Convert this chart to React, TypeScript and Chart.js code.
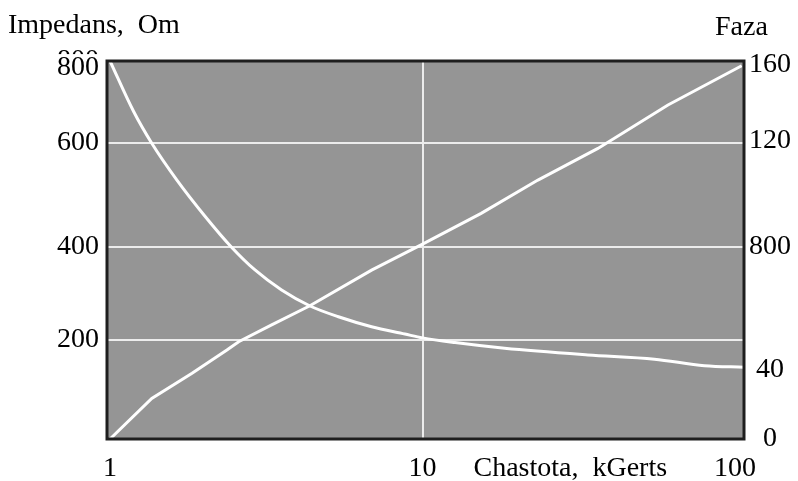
import React, { useEffect, useRef } from "react";
import { Chart, registerables } from "chart.js";

Chart.register(...registerables);

// Frequency (kGerts) and impedance (left scale units)
const impFreq = [1.0, 1.19, 1.36, 1.637, 2.016, 2.44, 2.91, 3.54, 4.365, 5.38, 6.87, 8.78, 10, 12.7, 18.3, 33.8, 55.2, 79.8, 106.8];
const impedance = [800, 693, 626, 548, 471, 407, 357.7, 315.3, 281.5, 258.8, 237.7, 222.2, 214, 204, 192, 178, 169, 155, 152];

// Frequency (kGerts) and phase (right scale units)
const phaseFreq = [1.0, 1.36, 1.83, 2.366, 2.58, 3.29, 4.36, 6.87, 10, 15.4, 23.4, 36.4, 61.0, 105.0];
const phase = [0, 17.2, 27.8, 37.7, 41.2, 48.3, 56.4, 71.5, 82.5, 95.5, 109.6, 123, 141.4, 158];

// Axis ticks (values on the scales, and the labels printed there)
const xTickValues = [1, 10, 29.7, 100];
const xTickLabels = ["1", "10", "Chastota,  kGerts", "100"];
const xGridValues = [10];

const leftTickValues = [800, 785, 626.5, 406.3, 209.5];
const leftTickLabels = ["800", "800", "600", "400", "200"];
const leftGridLabels = [false, false, true, true, true];

const rightTickValues = [158.3, 126.1, 81.3, 29.2, 0];
const rightTickLabels = ["160", "120", "800", "40", "0"];

const leftTitle = "Impedans,  Om";
const rightTitle = "Faza";

const FONT = "'Liberation Serif', 'Times New Roman', serif";

export default function App() {
  const ref = useRef<HTMLCanvasElement | null>(null);

  useEffect(() => {
    document.body.style.margin = "0";
    const canvas = ref.current;
    if (!canvas) return;

    const framePlugin = {
      id: "frame",
      beforeDraw(chart: any) {
        const { ctx, chartArea: a } = chart;
        ctx.save();
        ctx.fillStyle = "#959595";
        ctx.fillRect(a.left, a.top, a.right - a.left, a.bottom - a.top);
        ctx.restore();
      },
      afterDraw(chart: any) {
        const { ctx, chartArea: a } = chart;
        ctx.save();
        ctx.strokeStyle = "#1e1e1e";
        ctx.lineWidth = 3;
        ctx.strokeRect(a.left, a.top, a.right - a.left, a.bottom - a.top);
        ctx.fillStyle = "#000";
        ctx.font = `28px ${FONT}`;
        ctx.textBaseline = "alphabetic";
        ctx.textAlign = "left";
        ctx.fillText(leftTitle, 8, 33);
        ctx.fillText(rightTitle, a.right - 29, 35);
        ctx.restore();
      },
    };

    const chart = new Chart(canvas, {
      type: "line",
      data: {
        datasets: [
          {
            label: "Impedans",
            data: impFreq.map((f, i) => ({ x: f, y: impedance[i] })),
            borderColor: "#ffffff",
            borderWidth: 3,
            pointRadius: 0,
            cubicInterpolationMode: "monotone",
            yAxisID: "y",
          },
          {
            label: "Faza",
            data: phaseFreq.map((f, i) => ({ x: f, y: phase[i] })),
            borderColor: "#ffffff",
            borderWidth: 3,
            pointRadius: 0,
            tension: 0,
            yAxisID: "y1",
          },
        ],
      },
      plugins: [framePlugin],
      options: {
        animation: false,
        responsive: true,
        maintainAspectRatio: false,
        layout: { padding: { top: 61, left: 0, right: 0, bottom: 0 } },
        plugins: {
          legend: { display: false },
          tooltip: { enabled: false },
          title: { display: false },
        },
        scales: {
          x: {
            type: "logarithmic",
            min: 0.978,
            max: 106.8,
            afterBuildTicks: (s: any) => {
              s.ticks = xTickValues.map((v) => ({ value: v }));
            },
            afterFit: (s: any) => {
              s.height = 42;
            },
            border: { display: false },
            grid: {
              drawTicks: false,
              lineWidth: 2,
              color: (c: any) =>
                c.tick && xGridValues.includes(c.tick.value) ? "#ececec" : "rgba(0,0,0,0)",
            },
            ticks: {
              autoSkip: false,
              maxRotation: 0,
              minRotation: 0,
              padding: 16,
              color: "#000",
              font: { family: FONT, size: 28, lineHeight: 1 },
              callback: (_v: any, i: number) => xTickLabels[i],
            },
          },
          y: {
            type: "linear",
            position: "left",
            min: 0,
            max: 800,
            afterBuildTicks: (s: any) => {
              s.ticks = leftTickValues.map((v) => ({ value: v }));
            },
            afterFit: (s: any) => {
              s.width = 107;
            },
            border: { display: false },
            grid: {
              drawTicks: false,
              lineWidth: 2,
              color: (c: any) => (leftGridLabels[c.index] ? "#ececec" : "rgba(0,0,0,0)"),
            },
            ticks: {
              padding: 8,
              crossAlign: "near",
              color: "#000",
              showLabelBackdrop: true,
              backdropColor: "#ffffff",
              backdropPadding: 0,
              font: { family: FONT, size: 28, lineHeight: 1 },
              callback: (_v: any, i: number) => leftTickLabels[i],
            },
          },
          y1: {
            type: "linear",
            position: "right",
            min: 0,
            max: 160,
            afterBuildTicks: (s: any) => {
              s.ticks = rightTickValues.map((v) => ({ value: v }));
            },
            afterFit: (s: any) => {
              s.width = 54;
            },
            border: { display: false },
            grid: { display: false, drawTicks: false },
            ticks: {
              padding: 5,
              crossAlign: "center",
              color: "#000",
              font: { family: FONT, size: 28, lineHeight: 1 },
              callback: (_v: any, i: number) => rightTickLabels[i],
            },
          },
        },
      },
    } as any);

    return () => chart.destroy();
  }, []);

  return (
    <div style={{ width: 798, height: 481, position: "relative" }}>
      <canvas ref={ref} />
    </div>
  );
}
